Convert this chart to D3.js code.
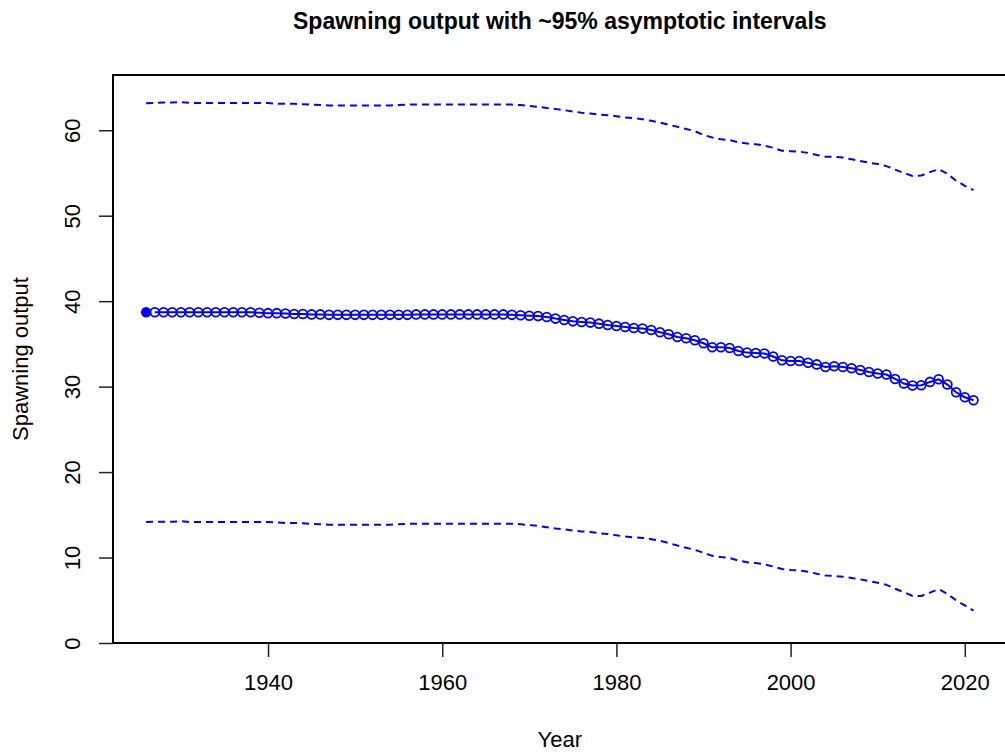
<!DOCTYPE html>
<html>
<head>
<meta charset="utf-8">
<script src="https://cdn.jsdelivr.net/npm/d3@7"></script>
<style>
    body { margin: 0; background: #fff; }
    text { font-family: 'Liberation Sans', Arial, sans-serif; fill: #000; }
</style>
</head>
<body>
<div id="chart"></div>
<script>
// years 1926..2021, first year is the filled (virgin) point
const years = d3.range(1926, 2022)

const spawningOutput = [
    38.7,
    38.7, 38.7, 38.7, 38.7, 38.7, 38.7, 38.7, 38.7, 38.7, 38.7, 38.7, 38.7,
    38.65, 38.6, 38.6, 38.55, 38.5, 38.5, 38.45,
    38.45, 38.4, 38.4, 38.4, 38.4, 38.4, 38.4, 38.4, 38.4, 38.4,
    38.4, 38.45, 38.45, 38.45, 38.45, 38.45, 38.45, 38.45, 38.45, 38.45, 38.45, 38.45, 38.4,
    38.35, 38.3, 38.25,
    38.15, 37.96, 37.8, 37.64, 37.56, 37.49, 37.37, 37.21, 37.1, 36.98,
    36.86, 36.79, 36.63, 36.36, 36.12, 35.81, 35.66, 35.42, 35.07, 34.6,
    34.6, 34.52, 34.17, 33.98, 33.94, 33.87, 33.52, 33.08, 33.0, 33.0,
    32.8, 32.6, 32.3, 32.38, 32.3, 32.15, 31.95, 31.72, 31.53, 31.41,
    30.9, 30.36, 30.13, 30.16, 30.55, 30.86, 30.24, 29.34, 28.76, 28.41,
]

const upperCI = [
    63.15, 63.2, 63.25, 63.25, 63.3, 63.2,
    63.2, 63.2, 63.2, 63.2, 63.2, 63.2, 63.2, 63.2, 63.2,
    63.1, 63.1, 63.1, 63.05, 63.0, 62.95, 62.9,
    62.9, 62.9, 62.9, 62.9, 62.9, 62.9, 62.9,
    62.95,
    63.0, 63.0, 63.0, 63.0, 63.0, 63.0, 63.0, 63.0, 63.0, 63.0, 63.0, 63.0, 63.0,
    62.95, 62.85, 62.75,
    62.6, 62.5, 62.35, 62.2, 62.05, 61.95, 61.85, 61.75, 61.65, 61.5,
    61.4, 61.3, 61.1, 60.9, 60.65, 60.4, 60.15, 59.9, 59.45, 59.15,
    58.95, 58.85, 58.6, 58.45, 58.35, 58.2, 57.95, 57.6, 57.55, 57.5,
    57.35, 57.1, 56.9, 56.9, 56.8, 56.6, 56.4, 56.2, 56.05, 55.8,
    55.4, 55.0, 54.65, 54.7, 55.1, 55.45, 54.9, 54.1, 53.5, 53.0,
]

const lowerCI = [
    14.15, 14.2, 14.2, 14.2, 14.25, 14.15,
    14.15, 14.15, 14.15, 14.15, 14.15, 14.15, 14.15, 14.15, 14.15,
    14.1, 14.05, 14.05, 14.0, 13.95, 13.9, 13.85,
    13.85, 13.85, 13.85, 13.85, 13.85, 13.85, 13.85,
    13.9,
    13.95, 13.95, 13.95, 13.95, 13.95, 13.95, 13.95, 13.95, 13.95, 13.95, 13.95, 13.95, 13.95,
    13.9, 13.8, 13.7,
    13.55, 13.4, 13.3, 13.15, 13.05, 13.0, 12.85, 12.75, 12.6, 12.45,
    12.35, 12.3, 12.15, 11.95, 11.7, 11.4, 11.15, 10.9, 10.55, 10.2,
    10.05, 9.95, 9.65, 9.45, 9.35, 9.2, 8.95, 8.65, 8.55, 8.5,
    8.35, 8.1, 7.9, 7.85, 7.75, 7.6, 7.45, 7.25, 7.05, 6.8,
    6.35, 5.95, 5.5, 5.5, 5.9, 6.3, 5.75, 5.0, 4.4, 3.8,
]

const xTicks = [1940, 1960, 1980, 2000, 2020]
const yTicks = [0, 10, 20, 30, 40, 50, 60]

const width = 1005
const height = 753
const plot = { left: 113, right: 1006.6, top: 75, bottom: 643 }
const blue = '#0000ff'
const fontSize = 22

const svg = d3.select('#chart').append('svg')
    .attr('width', width)
    .attr('height', height)

// R style: x padded 4% either side, y starts at 0 with 5% headroom
const xPad = (d3.max(years) - d3.min(years)) * 0.04
const x = d3.scaleLinear()
    .domain([d3.min(years) - xPad, d3.max(years) + xPad])
    .range([plot.left, plot.right])
const y = d3.scaleLinear()
    .domain([0, d3.max(upperCI) * 1.05])
    .range([plot.bottom, plot.top])

const rows = years.map((yr, i) => ({
    year: yr, est: spawningOutput[i], hi: upperCI[i], lo: lowerCI[i],
}))

/**
 * Draws a blue polyline through rows using accessor key
 */
const drawLine = (data, key, dash) => {
    const line = d3.line().x(d => x(d.year)).y(d => y(d[key]))
    svg.append('path')
        .datum(data)
        .attr('d', line)
        .attr('fill', 'none')
        .attr('stroke', blue)
        .attr('stroke-width', 2)
        .attr('stroke-dasharray', dash)
}

drawLine(rows, 'hi', '7,5')
drawLine(rows, 'lo', '7,5')

// main series, line through open circles (skip the virgin point)
const series = rows.slice(1)
drawLine(series, 'est', null)

svg.append('g')
    .selectAll('circle')
    .data(series)
    .join('circle')
    .attr('cx', d => x(d.year))
    .attr('cy', d => y(d.est))
    .attr('r', 4.4)
    .attr('fill', 'none')
    .attr('stroke', blue)
    .attr('stroke-width', 1.8)

svg.append('circle')
    .attr('cx', x(rows[0].year))
    .attr('cy', y(rows[0].est))
    .attr('r', 5.2)
    .attr('fill', blue)

// box
svg.append('rect')
    .attr('x', plot.left)
    .attr('y', plot.top)
    .attr('width', plot.right - plot.left)
    .attr('height', plot.bottom - plot.top)
    .attr('fill', 'none')
    .attr('stroke', '#000')
    .attr('stroke-width', 2)

// axes
const styleAxis = (g) => {
    g.selectAll('.tick line').attr('stroke', '#222').attr('stroke-width', 1.5)
    g.selectAll('.tick text')
        .attr('font-size', fontSize)
        .attr('font-family', "'Liberation Sans', Arial, sans-serif")
        .attr('fill', '#000')
}

const gx = svg.append('g')
    .attr('transform', `translate(0,${plot.bottom})`)
    .call(d3.axisBottom(x)
        .tickValues(xTicks)
        .tickFormat(d3.format('d'))
        .tickSize(14)
        .tickPadding(17))
gx.select('.domain')
    .attr('d', `M${x(xTicks[0])},0H${x(xTicks[xTicks.length - 1])}`)
    .attr('stroke', '#000').attr('stroke-width', 2)
styleAxis(gx)

const gy = svg.append('g')
    .attr('transform', `translate(${plot.left},0)`)
    .call(d3.axisLeft(y)
        .tickValues(yTicks)
        .tickSize(14)
        .tickPadding(0))
gy.select('.domain')
    .attr('d', `M0,${y(yTicks[0])}V${y(yTicks[yTicks.length - 1])}`)
    .attr('stroke', '#000').attr('stroke-width', 2)
styleAxis(gy)
gy.selectAll('.tick text')
    .attr('text-anchor', 'middle')
    .attr('dy', 0)
    .attr('x', null)
    .attr('transform', 'translate(-33,0) rotate(-90)')

// titles
svg.append('text')
    .attr('x', (plot.left + plot.right) / 2)
    .attr('y', 29)
    .attr('text-anchor', 'middle')
    .attr('font-size', 23)
    .attr('font-weight', 'bold')
    .text('Spawning output with ~95% asymptotic intervals')

svg.append('text')
    .attr('x', (plot.left + plot.right) / 2)
    .attr('y', 747)
    .attr('text-anchor', 'middle')
    .attr('font-size', fontSize)
    .text('Year')

svg.append('text')
    .attr('transform', `translate(28,${(plot.top + plot.bottom) / 2}) rotate(-90)`)
    .attr('text-anchor', 'middle')
    .attr('font-size', fontSize)
    .text('Spawning output')
</script>
</body>
</html>
